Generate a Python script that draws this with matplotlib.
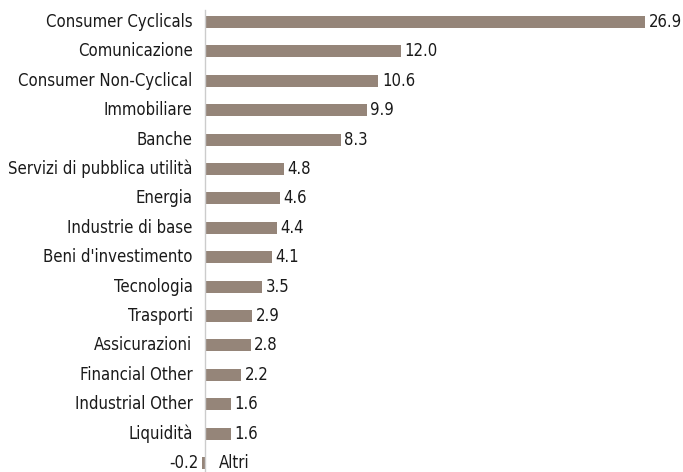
import matplotlib.pyplot as plt

categories = [
    "Consumer Cyclicals", "Comunicazione", "Consumer Non-Cyclical", "Immobiliare",
    "Banche", "Servizi di pubblica utilità", "Energia", "Industrie di base",
    "Beni d'investimento", "Tecnologia", "Trasporti", "Assicurazioni",
    "Financial Other", "Industrial Other", "Liquidità", "Altri",
]
values = [26.9, 12.0, 10.6, 9.9, 8.3, 4.8, 4.6, 4.4, 4.1, 3.5, 2.9, 2.8, 2.2, 1.6, 1.6, -0.2]

plt.rcParams["font.family"] = ["DejaVu Sans"]
plt.rcParams["font.stretch"] = "condensed"
bar_color = "#958579"
text_color = "#1a1a1a"
fs = 12

# zero line sits at x=205 px, 26.9 ends at x=645 px
px_per_unit = 440 / 26.9
xmin = -1.0
left_px = 205 - (-xmin) * px_per_unit
width_px = 645 - left_px

fig = plt.figure(figsize=(6.83, 4.72), dpi=100)
ax = fig.add_axes([left_px / 683, 0.0, width_px / 683, 1.0])

n = len(categories)
ypos = list(range(n - 1, -1, -1))
ax.barh(ypos, values, height=0.41, color=bar_color)

ax.set_xlim(xmin, 26.9)
ax.set_ylim(-0.306, n - 1 + 22 / 29.4)
ax.set_xticks([])
ax.set_yticks([])
for side in ax.spines:
    ax.spines[side].set_visible(False)
ax.axvline(0, ymin=0, ymax=1 - 10 / 472, color="#cccccc", lw=1.0)

for y, cat, v in zip(ypos, categories, values):
    if v >= 0:
        ax.annotate(cat, (0, y), xytext=(-9, 0), textcoords="offset points",
                    ha="right", va="center", fontsize=fs, color=text_color)
        ax.annotate(f"{v:.1f}", (v, y), xytext=(2.5, 0), textcoords="offset points",
                    ha="left", va="center", fontsize=fs, color=text_color)
    else:
        ax.annotate(cat, (0, y), xytext=(10, 0), textcoords="offset points",
                    ha="left", va="center", fontsize=fs, color=text_color)
        ax.annotate(f"{v:.1f}", (v, y), xytext=(-2, 0), textcoords="offset points",
                    ha="right", va="center", fontsize=fs, color=text_color)

ax.patch.set_visible(False)
fig.savefig("out.png", dpi=100)
